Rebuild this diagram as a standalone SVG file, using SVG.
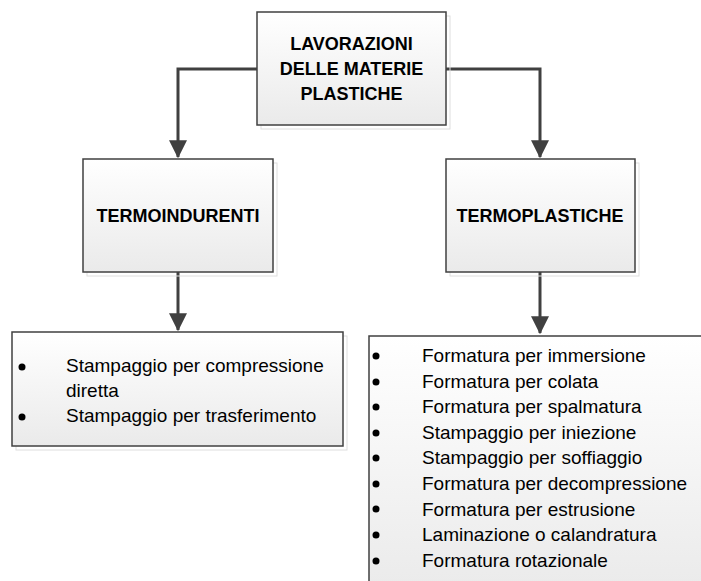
<svg xmlns="http://www.w3.org/2000/svg" width="701" height="581" viewBox="0 0 701 581">
<defs>
<linearGradient id="g" x1="0" y1="0" x2="0" y2="1">
<stop offset="0" stop-color="#ffffff"/>
<stop offset="1" stop-color="#eaeaea"/>
</linearGradient>
<marker id="arr" markerWidth="6" markerHeight="6" refX="5.6" refY="3" orient="auto" markerUnits="strokeWidth">
<path d="M0,0 L6,3 L0,6 Z" fill="#404040"/>
</marker>
</defs>
<style>
.box{fill:url(#g);stroke:#404040;stroke-width:1.5}
.sh{fill:none;stroke:#dedede;stroke-width:1}
.h{font-family:"Liberation Sans",Arial,sans-serif;font-weight:bold;font-size:18px;fill:#000;text-anchor:middle}
.t{font-family:"Liberation Sans",Arial,sans-serif;font-size:19px;fill:#000}
.c{fill:none;stroke:#404040;stroke-width:3;marker-end:url(#arr)}
.b{fill:#000}
</style>
<rect width="701" height="581" fill="#fff"/>
<g id="connectors">
<path class="c" d="M257,69 H178 V157"/>
<path class="c" d="M446,69 H540 V157"/>
<path class="c" d="M178,272 V330"/>
<path class="c" d="M540,272 V333"/>
</g>
<g id="root">
<rect class="sh" x="261" y="16" width="189" height="113"/>
<rect class="box" x="257" y="12" width="189" height="113"/>
<text class="h" x="351.5" y="50">LAVORAZIONI</text>
<text class="h" x="351.5" y="75">DELLE MATERIE</text>
<text class="h" x="351.5" y="100">PLASTICHE</text>
</g>
<g id="termoindurenti">
<rect class="sh" x="87" y="163" width="190" height="113"/>
<rect class="box" x="83" y="159" width="190" height="113"/>
<text class="h" x="178" y="222">TERMOINDURENTI</text>
</g>
<g id="termoplastiche">
<rect class="sh" x="450" y="163" width="189" height="113"/>
<rect class="box" x="446" y="159" width="189" height="113"/>
<text class="h" x="540" y="222">TERMOPLASTICHE</text>
</g>
<g id="list-termoindurenti">
<rect class="sh" x="16" y="336" width="331" height="114"/>
<rect class="box" x="12" y="332" width="331" height="114"/>
<circle class="b" cx="22" cy="367" r="3.5"/>
<circle class="b" cx="22" cy="417" r="3.5"/>
<text class="t" x="66" y="372">Stampaggio per compressione</text>
<text class="t" x="66" y="397">diretta</text>
<text class="t" x="66" y="422">Stampaggio per trasferimento</text>
</g>
<g id="list-termoplastiche">
<rect class="box" x="369" y="336" width="340" height="260"/>
<g class="b">
<circle cx="376" cy="356" r="3.5"/>
<circle cx="376" cy="382" r="3.5"/>
<circle cx="376" cy="407" r="3.5"/>
<circle cx="376" cy="433" r="3.5"/>
<circle cx="376" cy="458" r="3.5"/>
<circle cx="376" cy="484" r="3.5"/>
<circle cx="376" cy="509" r="3.5"/>
<circle cx="376" cy="535" r="3.5"/>
<circle cx="376" cy="561" r="3.5"/>
</g>
<text class="t" x="422" y="362">Formatura per immersione</text>
<text class="t" x="422" y="387.6">Formatura per colata</text>
<text class="t" x="422" y="413.2">Formatura per spalmatura</text>
<text class="t" x="422" y="438.8">Stampaggio per iniezione</text>
<text class="t" x="422" y="464.4">Stampaggio per soffiaggio</text>
<text class="t" x="422" y="490">Formatura per decompressione</text>
<text class="t" x="422" y="515.6">Formatura per estrusione</text>
<text class="t" x="422" y="541.2">Laminazione o calandratura</text>
<text class="t" x="422" y="566.8">Formatura rotazionale</text>
</g>
</svg>
